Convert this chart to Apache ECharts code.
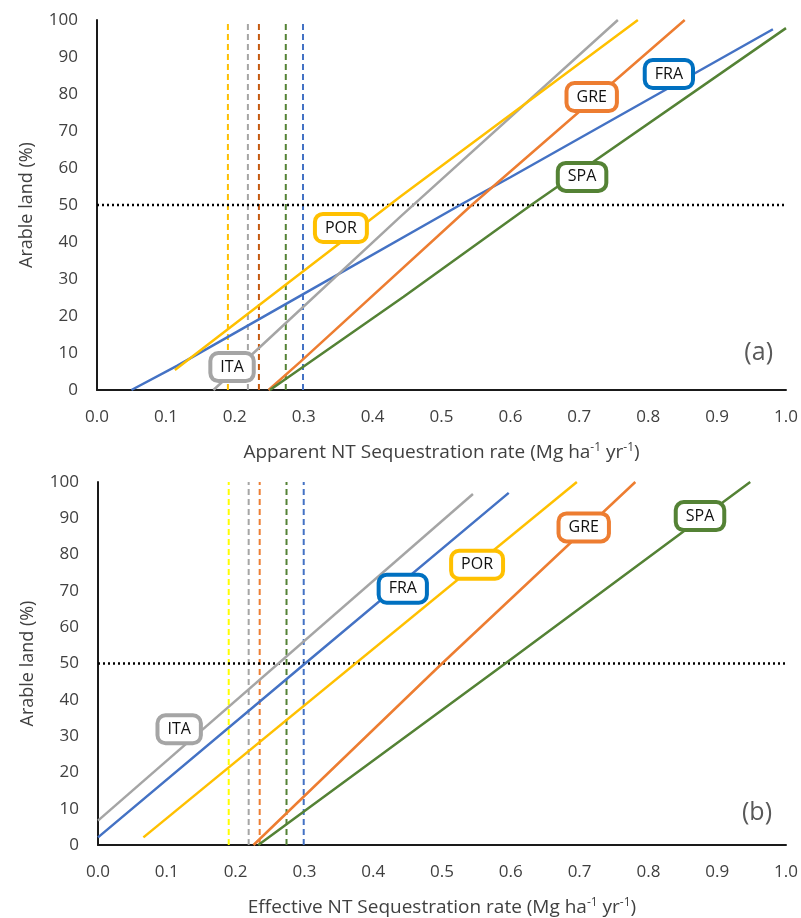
<!DOCTYPE html>
<html>
<head>
<meta charset="utf-8">
<script src="https://cdn.jsdelivr.net/npm/echarts@6/dist/echarts.min.js"></script>
<style>html,body{margin:0;padding:0;background:#fff;}#c{width:801px;height:918px;}</style>
</head>
<body>
<div id="c"></div>
<script>
// ---- Data ----
var countries = ['FRA', 'GRE', 'SPA', 'ITA', 'POR'];
var lineColors = {FRA: '#4472C4', GRE: '#ED7D31', SPA: '#548235', ITA: '#A5A5A5', POR: '#FFC000'};
var boxColors = {FRA: '#0070C0', GRE: '#ED7D31', SPA: '#548235', ITA: '#A5A5A5', POR: '#FFC000'};

// Panel (a): apparent NT sequestration rate vs arable land (%)
var apparentFRA = [[0.05, 0], [0.116, 6.5], [0.30, 26], [0.527, 50], [0.60, 57.5], [0.981, 97.5]];
var apparentGRE = [[0.249, 0], [0.295, 7.6], [0.544, 50], [0.853, 100]];
var apparentSPA = [[0.251, 0], [0.445, 25.2], [0.63, 50], [1.0, 97.8]];
var apparentITA = [[0.169, 0], [0.237, 11.7], [0.44, 46.8], [0.756, 100]];
var apparentPOR = [[0.113, 5.4], [0.237, 23.2], [0.44, 52.2], [0.785, 100]];

// Panel (b): effective NT sequestration rate vs arable land (%)
var effectiveFRA = [[0.0, 2.1], [0.301, 50], [0.597, 97]];
var effectiveGRE = [[0.226, 0], [0.500, 50], [0.781, 100]];
var effectiveSPA = [[0.233, 0], [0.592, 50], [0.948, 100]];
var effectiveITA = [[0.0, 6.7], [0.545, 96.7]];
var effectivePOR = [[0.066, 2.1], [0.696, 100]];

// Vertical dashed reference rates (both panels)
var refRates = {POR: 0.19, ITA: 0.219, GRE: 0.235, SPA: 0.274, FRA: 0.299};
var refOrder = ['POR', 'ITA', 'GRE', 'SPA', 'FRA'];
var refColorsA = {POR: '#FFC000', ITA: '#A5A5A5', GRE: '#C55A11', SPA: '#548235', FRA: '#4472C4'};
var refColorsB = {POR: '#FFFF00', ITA: '#A5A5A5', GRE: '#ED7D31', SPA: '#548235', FRA: '#4472C4'};
var thresholdY = 50;

// Label box positions (data coords)
var labelsA = {FRA: [0.83, 85.4], GRE: [0.718, 79.2], SPA: [0.704, 57.6], ITA: [0.196, 6.2], POR: [0.354, 43.8]};
var labelsB = {FRA: [0.443, 70.6], GRE: [0.706, 87.5], SPA: [0.875, 90.6], ITA: [0.118, 31.9], POR: [0.551, 77.2]};

var xTicks = [0, 0.1, 0.2, 0.3, 0.4, 0.5, 0.6, 0.7, 0.8, 0.9, 1.0];
var yTicks = [0, 10, 20, 30, 40, 50, 60, 70, 80, 90, 100];
var panelTags = ['(a)', '(b)'];

// ---- Build ----
var chart = echarts.init(document.getElementById('c'), null, {renderer: 'canvas'});
var font = 'Open Sans';
var dataA = {FRA: apparentFRA, GRE: apparentGRE, SPA: apparentSPA, ITA: apparentITA, POR: apparentPOR};
var dataB = {FRA: effectiveFRA, GRE: effectiveGRE, SPA: effectiveSPA, ITA: effectiveITA, POR: effectivePOR};

function xAxisDef(idx, title) {
  return {
    type: 'value', gridIndex: idx, min: 0, max: 1, interval: 0.1,
    axisLine: {show: true, lineStyle: {color: '#1a1a1a', width: 2}},
    axisTick: {show: false}, splitLine: {show: false},
    axisLabel: {color: '#404040', fontSize: 17, fontFamily: font, margin: 19,
      formatter: function (v) { return v.toFixed(1); }},
    name: title, nameLocation: 'middle', nameGap: 52,
    nameTextStyle: {color: '#404040', fontSize: 19, fontFamily: font,
      rich: {s: {fontSize: 12, fontFamily: font, color: '#404040', padding: [0, 0, 9, 0]}}}
  };
}
function yAxisDef(idx) {
  return {
    type: 'value', gridIndex: idx, min: 0, max: 100, interval: 10,
    axisLine: {show: true, lineStyle: {color: '#1a1a1a', width: 2}},
    axisTick: {show: false}, splitLine: {show: false},
    axisLabel: {color: '#404040', fontSize: 17, fontFamily: font, margin: 19},
    name: 'Arable land (%)', nameLocation: 'middle', nameGap: 61,
    nameTextStyle: {color: '#404040', fontSize: 18, fontFamily: font}
  };
}

var series = [];
[dataA, dataB].forEach(function (d, p) {
  var refColors = p === 0 ? refColorsA : refColorsB;
  refOrder.forEach(function (c) {
    series.push({type: 'line', xAxisIndex: p, yAxisIndex: p, symbol: 'none', silent: true,
      data: [[refRates[c], 0], [refRates[c], 100]],
      lineStyle: {color: refColors[c], width: 2, type: [6, 4]}, z: 1});
  });
  series.push({type: 'line', xAxisIndex: p, yAxisIndex: p, symbol: 'none', silent: true,
    data: [[0, thresholdY], [1, thresholdY]],
    lineStyle: {color: '#000', width: 2.5, type: [2, 3]}, z: 2});
  countries.forEach(function (c) {
    series.push({type: 'line', xAxisIndex: p, yAxisIndex: p, symbol: 'none', smooth: false,
      data: d[c], lineStyle: {color: lineColors[c], width: 2.5}, z: 3});
  });
  var labs = p === 0 ? labelsA : labelsB;
  series.push({type: 'scatter', xAxisIndex: p, yAxisIndex: p, symbolSize: 0, z: 5, silent: true,
    itemStyle: {opacity: 1},
    data: countries.map(function (c) { return {value: labs[c], name: c,
      label: {borderColor: boxColors[c]}}; }),
    label: {show: true, position: 'inside', formatter: '{b}', color: '#111', fontSize: 16,
      fontFamily: font, backgroundColor: '#fff', borderWidth: 4, borderRadius: 6,
      textBorderWidth: 0, opacity: 1,
      padding: [5, 8, 3, 8]}});
});

var option = {
  backgroundColor: '#fff',
  animation: false,
  grid: [
    {left: 97, top: 20, right: 15, height: 370},
    {left: 98, top: 482, right: 15, height: 364}
  ],
  xAxis: [
    xAxisDef(0, 'Apparent NT Sequestration rate (Mg ha{s|-1} yr{s|-1})'),
    xAxisDef(1, 'Effective NT Sequestration rate (Mg ha{s|-1} yr{s|-1})')
  ],
  yAxis: [yAxisDef(0), yAxisDef(1)],
  series: series,
  graphic: [
    {type: 'text', right: 28, top: 340, style: {text: panelTags[0], fill: '#595959', fontSize: 25, fontFamily: font}},
    {type: 'text', right: 29, top: 800, style: {text: panelTags[1], fill: '#595959', fontSize: 25, fontFamily: font}}
  ]
};
chart.setOption(option);
</script>
</body>
</html>
